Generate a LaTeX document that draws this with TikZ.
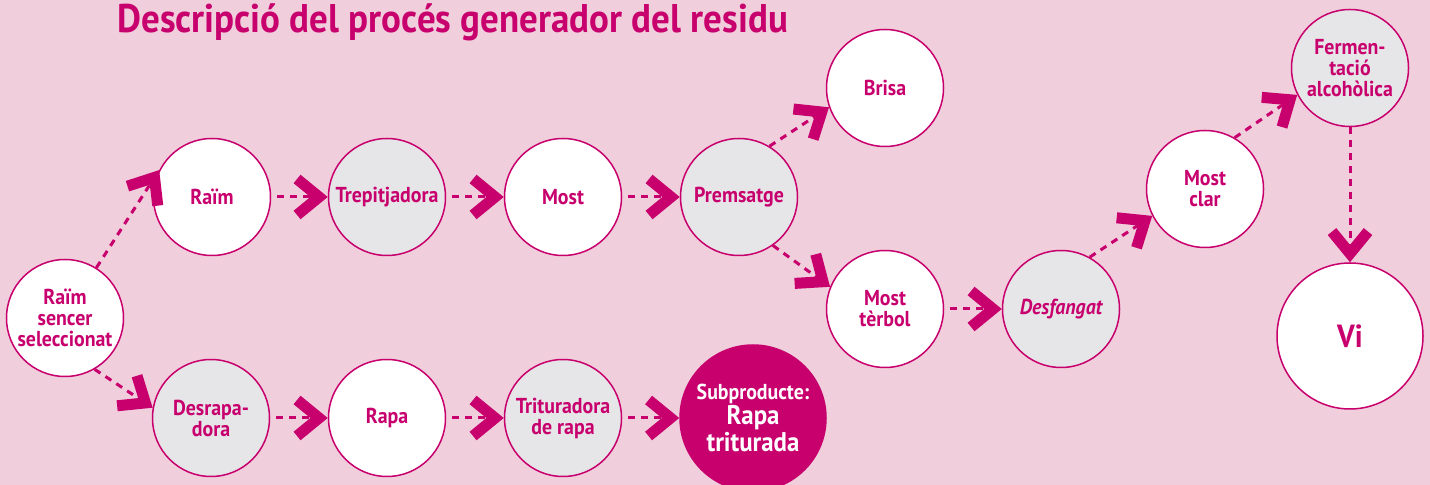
\documentclass[tikz,border=0pt]{standalone}
\usepackage{fontspec}
\setmainfont{PT Sans}[FakeStretch=0.92]
\newfontfamily\titolfont{PT Sans}[FakeStretch=0.925]
\usetikzlibrary{arrows.meta}

\definecolor{vimagenta}{RGB}{200,0,110}
\definecolor{fonsrosa}{RGB}{240,206,219}
\definecolor{grisclar}{RGB}{230,230,232}

\tikzset{
  etapa/.style={circle, draw=vimagenta, line width=0.75pt, minimum size=58.5pt,
    inner sep=0pt, align=center, text=vimagenta,
    font=\bfseries\fontsize{10.8}{10.5}\selectfont},
  blanc/.style={etapa, fill=white},
  gris/.style={etapa, fill=grisclar},
  flux/.style={vimagenta, line width=1.5pt, dash pattern=on 3.5pt off 3pt,
    -{Straight Barb[length=11pt,width=18pt,line width=5.5pt]}},
}

\begin{document}
\begin{tikzpicture}[x=0.5pt,y=-0.5pt]
\fill[fonsrosa] (0,0) rectangle (1430,485);
\useasboundingbox (0,0) rectangle (1430,485);

% titol
\node[anchor=base west, inner sep=0pt, text=vimagenta,
  font=\titolfont\bfseries\fontsize{20}{24}\selectfont] (titol) at (117,33)
  {Descripció del procés generador del residu};

% fila superior
\node[blanc] (sencer) at (65,318) {Raïm\\sencer\\seleccionat};
\node[blanc] (raim) at (212,197) {Raïm};
\node[gris] (trepit) at (387,197) {Trepitjadora};
\node[blanc] (most) at (563,197) {Most};
\node[gris] (prems) at (739,197) {Premsatge};
\node[blanc] (brisa) at (885,88) {Brisa};
\node[blanc] (terbol) at (885,309) {Most\\tèrbol};
\node[gris, font=\bfseries\itshape\fontsize{10.8}{10.5}\selectfont] (desfang) at (1061,309) {Desfangat};
\node[blanc] (clar) at (1205,189) {Most\\clar};
\node[gris] (ferment) at (1350,68) {Fermen-\\tació\\alcohòlica};
\node[blanc, minimum size=73pt, font=\bfseries\fontsize{16}{18}\selectfont] (vi) at (1350,336) {Vi};

% fila inferior
\node[gris] (desrapa) at (211,418) {Desrapa-\\dora};
\node[blanc] (rapa) at (387,418) {Rapa};
\node[gris] (tritur) at (563,418) {Trituradora\\de rapa};
\node[etapa, fill=vimagenta, text=white, minimum size=73pt] (subprod) at (753,418)
  {Subproducte:\\\fontsize{13.5}{13}\selectfont Rapa\\\fontsize{13.5}{13}\selectfont triturada};

% fletxes
\draw[flux] (sencer.58) -- (raim.153);
\draw[flux] (sencer.-60) -- (desrapa.170);
\draw[flux, shorten <=3pt] (raim) -- (trepit);
\draw[flux, shorten <=3pt] (trepit) -- (most);
\draw[flux, shorten <=3pt] (most) -- (prems);
\draw[flux] (prems.59) -- (brisa.199);
\draw[flux] (prems.-55) -- (terbol.158);
\draw[flux, shorten <=3pt] (terbol) -- (desfang);
\draw[flux] (desfang.61) -- (clar.207);
\draw[flux] (clar.60) -- (ferment.207);
\draw[flux] (ferment) -- (vi);
\draw[flux, shorten <=3pt] (desrapa) -- (rapa);
\draw[flux, shorten <=3pt] (rapa) -- (tritur);
\draw[flux, shorten <=3pt] (tritur) -- (subprod);
\end{tikzpicture}
\end{document}
